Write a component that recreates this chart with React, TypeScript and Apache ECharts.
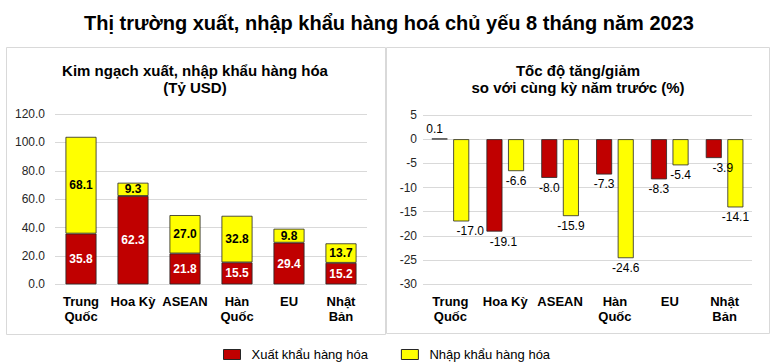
import React, { useEffect, useRef } from "react";
import * as echarts from "echarts";

const categoryLabels = ["Trung\nQuốc", "Hoa Kỳ", "ASEAN", "Hàn\nQuốc", "EU", "Nhật\nBản"];
const exportValue = [35.8, 62.3, 21.8, 15.5, 29.4, 15.2];
const importValue = [68.1, 9.3, 27.0, 32.8, 9.8, 13.7];
const exportGrowth = [0.1, -19.1, -8.0, -7.3, -8.3, -3.9];
const importGrowth = [-17.0, -6.6, -15.9, -24.6, -5.4, -14.1];
// horizontal nudges of growth labels (as placed in the original)
const exportGrowthLabelShift = [-5, 9, 0, 0, 0, 9];
const importGrowthLabelShift = [9, 0, 0, 0, 0, 0];

const seriesNames = ["Xuất khẩu hàng hóa", "Nhập khẩu hàng hóa"];
const mainTitle = "Thị trường xuất, nhập khẩu hàng hoá chủ yếu 8 tháng năm 2023";
const leftTitle = ["Kim ngạch xuất, nhập khẩu hàng hóa", "(Tỷ USD)"];
const rightTitle = ["Tốc độ tăng/giảm", "so với cùng kỳ năm trước (%)"];

const FONT = "'Liberation Sans', Arial, sans-serif";
const RED = "#C00000";
const YELLOW = "#FFFF00";
const BORDER = "#262626";
const GRID = "#d9d9d9";

export default function App() {
  const ref = useRef<HTMLDivElement>(null);
  useEffect(() => {
    if (!ref.current) return;
    const chart = echarts.init(ref.current, null, { renderer: "svg" });
    const growthData = (vals: number[], shifts: number[]) =>
      vals.map((v, i) => ({
        value: v,
        label: {
          position: v >= 0 ? "top" : "bottom",
          offset: [shifts[i], 0],
        },
      }));
    const catAxis = (gridIndex: number) => ({
      type: "category",
      gridIndex,
      data: categoryLabels,
      axisLine: { show: false },
      axisTick: { show: false },
      axisLabel: {
        interval: 0,
        fontFamily: FONT,
        fontSize: 13,
        fontWeight: "bold",
        color: "#000",
        lineHeight: 15,
        margin: 10,
      },
    });
    const panelTitle = (lines: string[], x: number) =>
      lines.map((t, i) => ({
        type: "text",
        x,
        y: 70 + i * 17,
        style: {
          text: t,
          align: "center",
          verticalAlign: "middle",
          fontFamily: FONT,
          fontSize: 15,
          fontWeight: "bold",
          fill: "#000",
        },
      }));
    chart.setOption({
      animation: false,
      textStyle: { fontFamily: FONT },
      legend: {
        data: seriesNames,
        left: 218,
        top: 343,
        itemWidth: 17,
        itemHeight: 10,
        itemGap: 33,
        icon: "rect",
        itemStyle: { borderColor: BORDER, borderWidth: 1 },
        textStyle: { fontFamily: FONT, fontSize: 13, color: "#000", padding: [0, 0, 0, 6] },
      },
      grid: [
        { left: 55, top: 114, width: 312, height: 170.4 },
        { left: 423, top: 115, width: 329, height: 169.3 },
      ],
      xAxis: [catAxis(0), catAxis(1)],
      yAxis: [
        {
          type: "value",
          gridIndex: 0,
          min: 0,
          max: 120,
          interval: 20,
          axisLine: { show: false },
          axisTick: { show: false },
          splitLine: { lineStyle: { color: GRID } },
          axisLabel: {
            fontFamily: FONT,
            fontSize: 12,
            color: "#262626",
            margin: 10,
            formatter: (v: number) => v.toFixed(1),
          },
        },
        {
          type: "value",
          gridIndex: 1,
          min: -30,
          max: 5,
          interval: 5,
          axisLine: { show: false },
          axisTick: { show: false },
          splitLine: { lineStyle: { color: GRID } },
          axisLabel: { fontFamily: FONT, fontSize: 12, color: "#262626", margin: 6 },
        },
      ],
      series: [
        {
          name: seriesNames[0],
          type: "bar",
          stack: "total",
          xAxisIndex: 0,
          yAxisIndex: 0,
          barWidth: 31,
          data: exportValue,
          itemStyle: { color: RED, borderColor: BORDER, borderWidth: 0.8 },
          label: {
            show: true,
            position: "inside",
            color: "#fff",
            fontWeight: "bold",
            fontSize: 12,
            fontFamily: FONT,
            formatter: (p: any) => Number(p.value).toFixed(1),
          },
        },
        {
          name: seriesNames[1],
          type: "bar",
          stack: "total",
          xAxisIndex: 0,
          yAxisIndex: 0,
          barWidth: 31,
          data: importValue,
          itemStyle: { color: YELLOW, borderColor: BORDER, borderWidth: 0.8 },
          label: {
            show: true,
            position: "inside",
            color: "#000",
            fontWeight: "bold",
            fontSize: 12,
            fontFamily: FONT,
            formatter: (p: any) => Number(p.value).toFixed(1),
          },
        },
        {
          name: seriesNames[0],
          type: "bar",
          xAxisIndex: 1,
          yAxisIndex: 1,
          barWidth: 16,
          barGap: "35%",
          data: growthData(exportGrowth, exportGrowthLabelShift),
          itemStyle: { color: RED, borderColor: BORDER, borderWidth: 0.8 },
          label: {
            show: true,
            distance: 4,
            color: "#000",
            fontSize: 12,
            fontFamily: FONT,
            formatter: (p: any) => Number(p.value).toFixed(1),
          },
        },
        {
          name: seriesNames[1],
          type: "bar",
          xAxisIndex: 1,
          yAxisIndex: 1,
          barWidth: 16,
          barGap: "35%",
          data: growthData(importGrowth, importGrowthLabelShift),
          itemStyle: { color: YELLOW, borderColor: BORDER, borderWidth: 0.8 },
          label: {
            show: true,
            distance: 4,
            color: "#000",
            fontSize: 12,
            fontFamily: FONT,
            formatter: (p: any) => Number(p.value).toFixed(1),
          },
        },
      ],
      graphic: [
        {
          type: "rect",
          silent: true,
          shape: { x: 6.5, y: 47.5, width: 379, height: 287 },
          style: { fill: "none", stroke: GRID, lineWidth: 1 },
        },
        {
          type: "rect",
          silent: true,
          shape: { x: 386.5, y: 47.5, width: 383, height: 286 },
          style: { fill: "none", stroke: GRID, lineWidth: 1 },
        },
        {
          type: "text",
          x: 389,
          y: 23,
          style: {
            text: mainTitle,
            align: "center",
            verticalAlign: "middle",
            fontFamily: FONT,
            fontSize: 20,
            fontWeight: "bold",
            fill: "#000",
          },
        },
        ...panelTitle(leftTitle, 195),
        ...panelTitle(rightTitle, 578),
      ],
    });
    return () => chart.dispose();
  }, []);
  return (
    <div
      ref={ref}
      style={{ position: "fixed", left: 0, top: 0, width: 776, height: 362, background: "#fff" }}
    />
  );
}
